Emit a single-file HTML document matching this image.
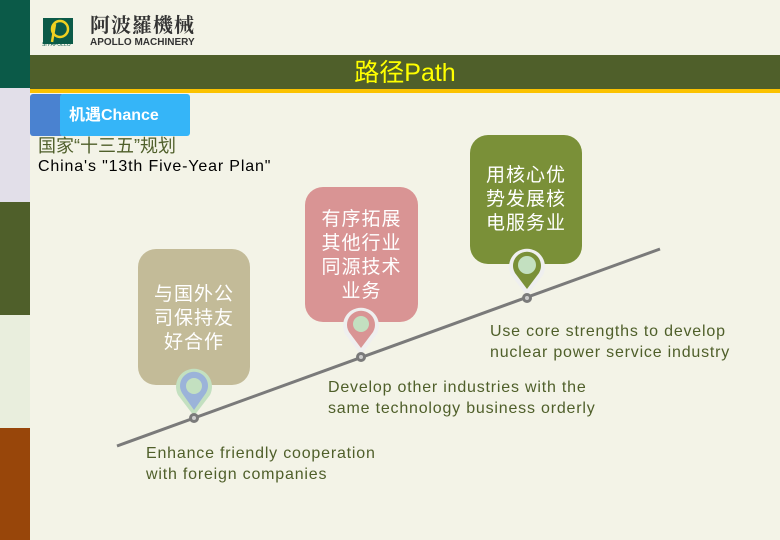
<!DOCTYPE html>
<html><head><meta charset="utf-8"><style>
body{margin:0;width:780px;height:540px;overflow:hidden;background:#f3f3e7;position:relative;font-family:"Liberation Sans","Noto Sans CJK SC",sans-serif}
.a{position:absolute}
.box{position:absolute;border-radius:18px;color:#fff;text-align:center;font-size:19px;line-height:24px;box-sizing:border-box;letter-spacing:1px}
.en{position:absolute;color:#4f5f2a;font-size:16px;line-height:21px;letter-spacing:0.8px}
</style></head><body>
<div class="a" style="left:0;top:0;width:30px;height:88px;background:#0b5a48"></div>
<div class="a" style="left:0;top:88px;width:30px;height:114px;background:#e2dfe9"></div>
<div class="a" style="left:0;top:202px;width:30px;height:113px;background:#4f5f2a"></div>
<div class="a" style="left:0;top:315px;width:30px;height:113px;background:#e9eedd"></div>
<div class="a" style="left:0;top:428px;width:30px;height:112px;background:#98460a"></div>
<div class="a" style="left:43px;top:18px;width:30px;height:26px;background:#0b5a48"></div>
<svg class="a" style="left:43px;top:18px" width="30" height="26"><circle cx="17" cy="11" r="8" fill="none" stroke="#f0d020" stroke-width="2.5"/><path d="M12 6 L9 24" stroke="#f0d020" stroke-width="2.5"/></svg>
<div class="a" style="left:42px;top:42px;font-size:5px;line-height:6px;color:#0b5a48">SH·APOLLO</div>
<div class="a" style="left:90px;top:13px;font-size:20px;line-height:22px;font-weight:bold;color:#333;letter-spacing:1px;font-family:'Noto Serif CJK SC',serif">阿波羅機械</div>
<div class="a" style="left:90px;top:37px;font-size:10px;line-height:11px;color:#333;font-weight:bold">APOLLO MACHINERY</div>
<div class="a" style="left:30px;top:55px;width:750px;height:34px;background:#4f5f2a"></div>
<div class="a" style="left:30px;top:89px;width:750px;height:4px;background:#fbc200"></div>
<div class="a" style="left:30px;top:57px;width:750px;text-align:center;font-size:25px;line-height:32px;color:#ffff00">路径Path</div>
<div class="a" style="left:30px;top:94px;width:34px;height:42px;background:#4a82d0;border-radius:3px"></div>
<div class="a" style="left:60px;top:94px;width:130px;height:42px;background:#35b5f8;border-radius:3px;color:#fff;font-size:16px;line-height:44px;padding-left:9px;box-sizing:border-box;font-weight:bold">机遇Chance</div>
<div class="a" style="left:38px;top:135px;font-size:18px;line-height:22px;color:#4f5f2a">国家“十三五”规划</div>
<div class="a" style="left:38px;top:157px;font-size:16px;line-height:20px;color:#000;letter-spacing:0.85px">China's "13th Five-Year Plan"</div>
<div class="box" style="left:138px;top:249px;width:112px;height:136px;background:#c3bb98;padding-top:34px">与国外公<br>司保持友<br>好合作</div>
<div class="box" style="left:305px;top:187px;width:113px;height:135px;background:#d99494;padding-top:21px">有序拓展<br>其他行业<br>同源技术<br>业务</div>
<div class="box" style="left:470px;top:135px;width:112px;height:129px;background:#7a9038;padding-top:29px">用核心优<br>势发展核<br>电服务业</div>
<svg class="a" style="left:0;top:0" width="780" height="540">
<line x1="117" y1="446" x2="660" y2="249" stroke="#7a7a7a" stroke-width="3"/>
<g><path d="M194 416 L178 395 A18 18 0 1 1 210 395 Z" fill="#c3e0c0"/><path d="M194 410 L182 393 A14 14 0 1 1 206 393 Z" fill="#9bb3d9"/><circle cx="194" cy="386" r="8" fill="#c3e0c0"/></g>
<g><path d="M361 355 L345 334 A18 18 0 1 1 377 334 Z" fill="#efefef"/><path d="M361 348 L349 332 A14 14 0 1 1 373 332 Z" fill="#d99494"/><circle cx="361" cy="324" r="8" fill="#c3e0c0"/></g>
<g><path d="M527 296 L511 275 A18 18 0 1 1 543 275 Z" fill="#efefef"/><path d="M527 289 L515 273 A14 14 0 1 1 539 273 Z" fill="#7a9038"/><circle cx="527" cy="265" r="9" fill="#c3e0c0"/></g>
<circle cx="194" cy="418" r="5" fill="#7a7a7a"/><circle cx="194" cy="418" r="2" fill="#ccc"/>
<circle cx="361" cy="357" r="5" fill="#7a7a7a"/><circle cx="361" cy="357" r="2" fill="#ccc"/>
<circle cx="527" cy="298" r="5" fill="#7a7a7a"/><circle cx="527" cy="298" r="2" fill="#ccc"/>
</svg>
<div class="en" style="left:490px;top:321px">Use core strengths to develop<br>nuclear power service industry</div>
<div class="en" style="left:328px;top:377px">Develop other industries with the<br>same technology business orderly</div>
<div class="en" style="left:146px;top:443px">Enhance friendly cooperation<br>with foreign companies</div>
</body></html>
